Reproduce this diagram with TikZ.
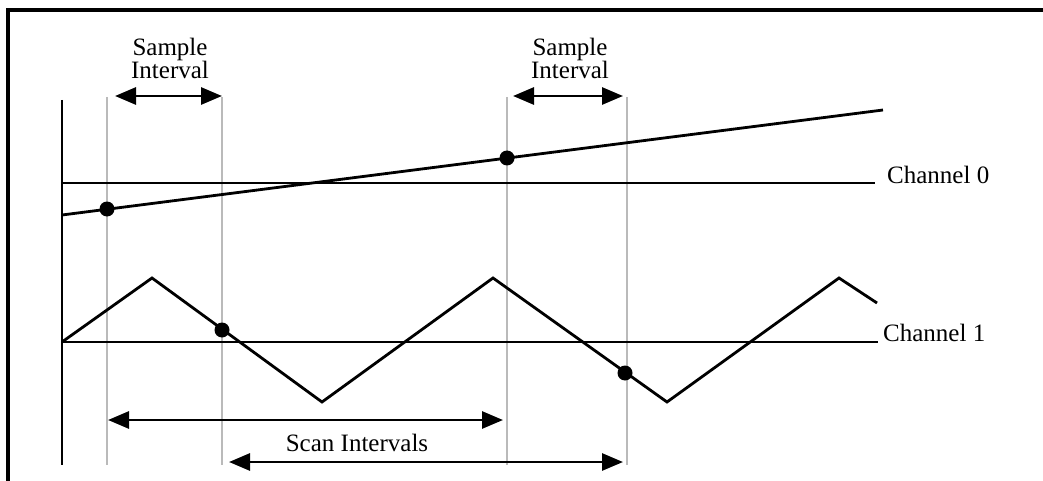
\documentclass[tikz,border=0pt]{standalone}
\usepackage{fontspec}
\setmainfont{Liberation Serif}
\usetikzlibrary{arrows.meta}
\tikzset{
  sig/.style={line width=2.8pt},
  guide/.style={line width=2.2pt,draw=black!27},
  span/.style={line width=2.8pt,{Triangle[length=21pt,width=17pt]}-{Triangle[length=21pt,width=17pt]}},
  sample/.style={circle,fill,inner sep=0pt,minimum size=15pt},
  lbl/.style={font=\fontsize{25}{23}\selectfont,inner sep=0pt}
}

\begin{document}
\begin{tikzpicture}[x=1pt,y=-1pt]
  \useasboundingbox (0,0) rectangle (1043,481);
  % frame
  \draw[line width=3.2pt] (8,481) -- (8,10) -- (1043,10);
  % guide lines
  \foreach \x/\n in {107/a,222/b,507/c,627/d} {
    \coordinate (\n top) at (\x,97);
    \coordinate (\n bot) at (\x,465);
    \draw[guide] (\n top) -- (\n bot);
  }
  % axis and reference levels
  \coordinate (axtop) at (62,100);
  \coordinate (axbot) at (62,465);
  \draw[sig] (axtop) -- (axbot);
  \draw[sig] (62,183) -- (875,183);
  \draw[sig] (62,342) -- (878,342);
  \node[lbl,anchor=west] (ch0) at (887,175) {Channel 0};
  \node[lbl,anchor=west] (ch1) at (883,333) {Channel 1};
  % signals
  \draw[sig] (62,215) -- (883,110);
  \draw[sig,line join=miter] (62,342) -- (152,278) -- (322,402) -- (493,278)
    -- (667,402) -- (839,278) -- (877,303);
  \node[sample] (s0a) at (107,209) {};
  \node[sample] (s0b) at (507,158) {};
  \node[sample] (s1a) at (222,330) {};
  \node[sample] (s1b) at (625,373) {};
  % sample intervals
  \node[lbl,align=center] (si1) at (170,58) {Sample\\Interval};
  \node[lbl,align=center] (si2) at (570,58) {Sample\\Interval};
  \coordinate (si1l) at (115,96);  \coordinate (si1r) at (222,96);
  \coordinate (si2l) at (513,96);  \coordinate (si2r) at (623,96);
  \draw[span] (si1l) -- (si1r);
  \draw[span] (si2l) -- (si2r);
  % scan intervals
  \coordinate (sc1l) at (108,420);  \coordinate (sc1r) at (503,420);
  \coordinate (sc2l) at (229,462);  \coordinate (sc2r) at (623,462);
  \draw[span] (sc1l) -- (sc1r);
  \draw[span] (sc2l) -- (sc2r);
  \node[lbl] (scan) at (357,443) {Scan Intervals};
\end{tikzpicture}
\end{document}
